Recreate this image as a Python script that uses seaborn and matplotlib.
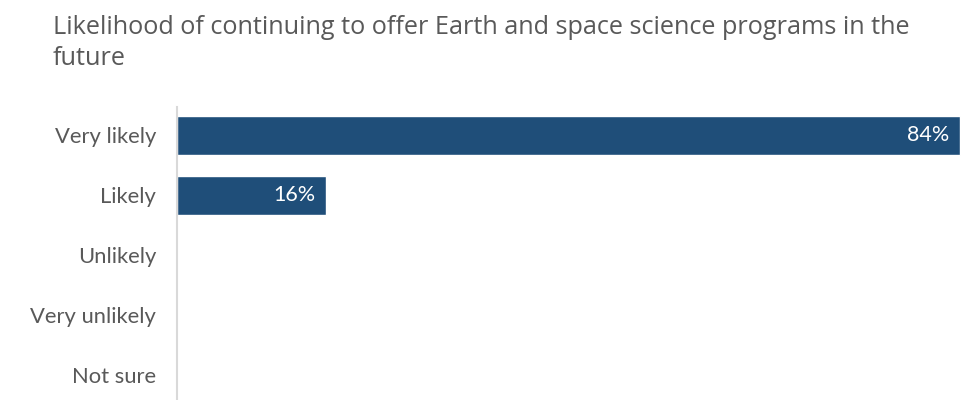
import matplotlib
matplotlib.use("Agg")
import matplotlib.pyplot as plt
import seaborn as sns
import pandas as pd

categories = ["Very likely", "Likely", "Unlikely", "Very unlikely", "Not sure"]
values = [84, 16, 0, 0, 0]
value_labels = ["84%", "16%", "", "", ""]

title = "Likelihood of continuing to offer Earth and space science programs in the\nfuture"

sns.set_theme(style="white")
plt.rcParams["font.family"] = ["Lato", "DejaVu Sans"]

bar_color = "#1F4E79"
text_color = "#595959"

df = pd.DataFrame({"category": categories, "value": values})

fig = plt.figure(figsize=(9.61, 4.0), dpi=100)
ax = fig.add_axes([177 / 961, 0.0, 784 / 961, (400 - 107) / 400])

sns.barplot(data=df, x="value", y="category", order=categories,
            color=bar_color, saturation=1, width=0.65, ax=ax, orient="h")

ax.set_xlim(0, 84.1)
ax.set_ylim(4.42, -0.47)
ax.set_xlabel("")
ax.set_ylabel("")
ax.set_xticks([])
ax.tick_params(axis="y", length=0, pad=15, labelsize=15.8, labelcolor=text_color)

for side in ["top", "right", "bottom"]:
    ax.spines[side].set_visible(False)
ax.spines["left"].set_color("#D9D9D9")
ax.spines["left"].set_linewidth(1.5)

for i, (v, lab) in enumerate(zip(values, value_labels)):
    if lab:
        ax.annotate(lab, xy=(v, i), xytext=(-8, 0), textcoords="offset points",
                    ha="right", va="center", color="white", fontsize=15.5)

fig.text(53 / 961, 1 - 15 / 400, title, ha="left", va="top",
         fontsize=18.2, color=text_color, family=["Open Sans", "DejaVu Sans"],
         linespacing=1.3)

fig.savefig("out.png", dpi=100)
